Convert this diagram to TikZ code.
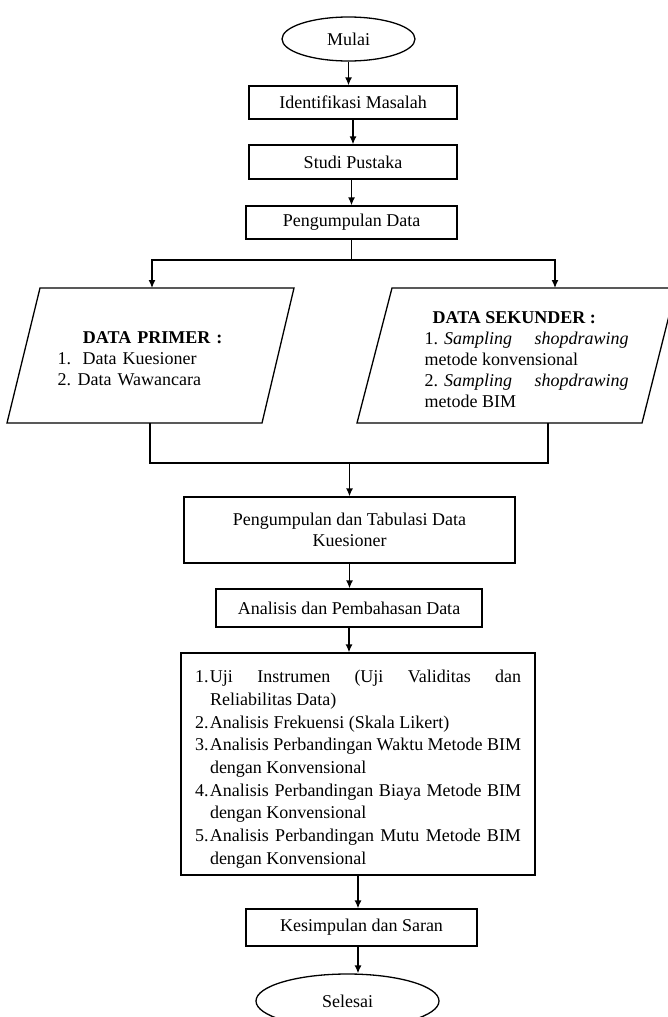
\documentclass[tikz,border=0pt]{standalone}
\usepackage{fontspec}
\setmainfont{Liberation Serif}
\usetikzlibrary{shapes.geometric,arrows.meta,calc}
\newcommand\flitem[1]{\par\noindent\hangindent=15pt\hangafter=1\makebox[15pt][l]{#1}\ignorespaces}
\begin{document}
\begin{tikzpicture}[x=1pt,y=-1pt,
  line width=1.3pt,
  every node/.style={font=\fontsize{18pt}{21pt}\selectfont},
  proc/.style={draw, rectangle, inner sep=0pt, align=center},
  term/.style={draw, ellipse, inner sep=0pt},
  txt/.style={inner sep=0pt},
  arr/.style={-{Latex[length=8pt,width=7pt]}}]
\useasboundingbox (0,0) rectangle (668,1017);
\clip (0,0) rectangle (668,1017);
\fill[white] (0,0) rectangle (668,1017);

% top chain
\node[term, minimum width=133pt, minimum height=44pt] (mulai) at (348.5,39) {Mulai};
\node[proc, minimum width=208pt, minimum height=33pt] (ident) at (353,102.5) {Identifikasi Masalah};
\node[proc, minimum width=208pt, minimum height=34pt] (studi) at (353,162) {Studi Pustaka};
\node[proc, minimum width=211pt, minimum height=33pt] (pdata) at (351.5,222.5) {Pengumpulan Data};

\draw[arr] (mulai.south) -- (mulai.south |- ident.north);
\draw[arr] (ident.south) -- (ident.south |- studi.north);
\draw[arr] (pdata.north |- studi.south) -- (pdata.north);

% split
\coordinate (split) at (351.5,260);
\coordinate (ptop) at (152,288);
\coordinate (stop) at (555,288);
\draw (pdata.south) -- (split);
\draw[arr] (split) -| (ptop);
\draw[arr] (split) -| (stop);

% parallelograms
\draw (40,288) -- (294,288) -- (262,423) -- (7,423) -- cycle;
\draw (392,288) -- (676,288) -- (642,423) -- (357,423) -- cycle;

\node[txt, anchor=base west, text width=190pt, align=left] (primtxt) at (57,343)
  {\makebox[190pt]{\textbf{DATA PRIMER :}}\\
   \makebox[25pt][l]{1.}Data Kuesioner\\
   \makebox[20pt][l]{2.}Data Wawancara};

\node[txt, anchor=base west, text width=204pt, align=justify] (sektxt) at (424,323)
  {\hspace*{8pt}\textbf{DATA SEKUNDER :}\par
   \noindent 1.\hspace{6pt}\textit{Sampling} \textit{shopdrawing}\linebreak
   metode konvensional\par
   \noindent 2.\hspace{6pt}\textit{Sampling} \textit{shopdrawing}\linebreak
   metode BIM};

% merge
\coordinate (pbot) at (150,423);
\coordinate (sbot) at (548,423);
\coordinate (merge) at (349.5,463);
\draw (pbot) |- (merge);
\draw (sbot) |- (merge);

\node[proc, minimum width=331pt, minimum height=66pt] (tab) at (349.5,530)
  {Pengumpulan dan Tabulasi Data\\Kuesioner};
\draw[arr] (merge) -- (tab.north);

\node[proc, minimum width=266pt, minimum height=38pt] (ana) at (349,608) {Analisis dan Pembahasan Data};
\draw[arr] (tab.south) -- (tab.south |- ana.north);

\node[draw, rectangle, minimum width=354pt, minimum height=222pt, text width=326pt,
      inner xsep=14pt, inner ysep=0pt, align=justify,
      font=\fontsize{18pt}{22.7pt}\selectfont] (big) at (358,764)
  {\flitem{1.}Uji Instrumen (Uji Validitas dan\linebreak Reliabilitas Data)
   \flitem{2.}Analisis Frekuensi (Skala Likert)
   \flitem{3.}Analisis Perbandingan Waktu Metode BIM\linebreak dengan Konvensional
   \flitem{4.}Analisis Perbandingan Biaya Metode BIM\linebreak dengan Konvensional
   \flitem{5.}Analisis Perbandingan Mutu Metode BIM\linebreak dengan Konvensional\par};
\draw[arr] (ana.south) -- (ana.south |- big.north);

\node[proc, minimum width=231pt, minimum height=37pt] (kes) at (361.5,927.5) {Kesimpulan dan Saran};
\draw[arr] (big.south) -- (big.south |- kes.north);

\node[term, minimum width=183pt, minimum height=54pt] (sel) at (347.5,1001) {Selesai};
\draw[arr] (big.south |- kes.south) -- (big.south |- sel.north);
\end{tikzpicture}
\end{document}
